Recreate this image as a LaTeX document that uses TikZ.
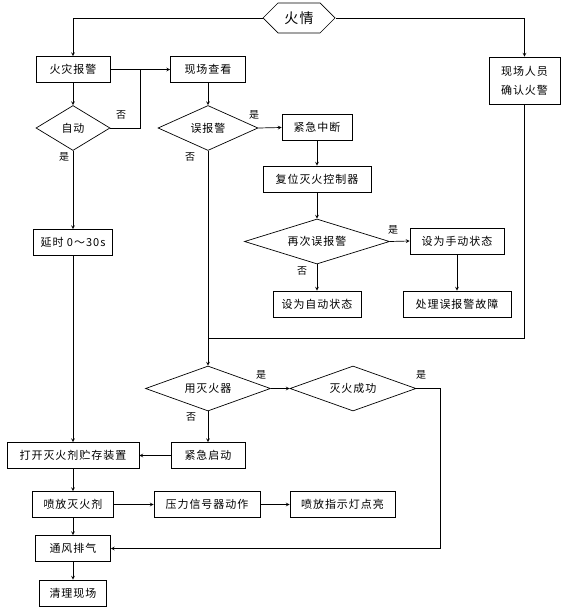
\documentclass[tikz,border=0pt]{standalone}
\usepackage{fontspec}
\setmainfont[LetterSpace=9]{Noto Sans CJK SC}
\usetikzlibrary{shapes.geometric,shapes.symbols}
\tikzset{%
    box/.style={draw, rectangle, inner sep=0pt, minimum height=26pt,
        font=\fontsize{11}{13}\selectfont},
    decision/.style={draw, diamond, aspect=3, inner sep=0pt, minimum height=45pt,
        font=\fontsize{11}{13}\selectfont},
    answer/.style={inner sep=0pt, font=\fontsize{10}{12}\selectfont}
}
\begin{document}
\begin{tikzpicture}[x=1pt,y=-1pt,line width=0.7pt,>=stealth]
    \useasboundingbox (0,0) rectangle (561,607);
%-----------------------------------------------
    \node[draw, signal, signal to=east and west, inner sep=0pt, minimum width=72pt,
        minimum height=30pt, font=\fontsize{14}{16}\selectfont] (fire) at (299,18) {火情};
    \node[box, minimum width=74pt] (alarm) at (73,69.5) {火灾报警};
    \node[box, minimum width=75pt] (check) at (208,69.5) {现场查看};
    \node[box, minimum width=71pt, minimum height=47pt, align=center,
        font=\fontsize{11}{19}\selectfont] (staff) at (524.5,80.5) {现场人员\\确认火警};
%-----------------------------------------------
    \node[decision, minimum width=74pt] (isauto) at (73,128) {自动};
    \node[decision, minimum width=100pt] (false) at (208,128) {误报警};
    \node[box, minimum width=70pt] (stop) at (317,127.5) {紧急中断};
    \node[box, minimum width=108pt] (reset) at (317,179) {复位灭火控制器};
    \node[decision, minimum width=145pt] (again) at (317,241.5) {再次误报警};
    \node[box, minimum width=94pt] (manual) at (457,241) {设为手动状态};
    \node[box, minimum width=88pt] (autoset) at (317,304) {设为自动状态};
    \node[box, minimum width=108pt] (fault) at (457,304) {处理误报警故障};
    \node[box, minimum width=79pt] (delay) at (73,242.5) {延时 0～30s};
%-----------------------------------------------
    \node[decision, minimum width=125pt] (useext) at (208,388.5) {用灭火器};
    \node[decision, minimum width=126pt] (success) at (353,388.5) {灭火成功};
    \node[box, minimum width=74pt] (start) at (208,455.5) {紧急启动};
    \node[box, minimum width=132pt] (open) at (73,455.5) {打开灭火剂贮存装置};
    \node[box, minimum width=81pt] (spray) at (73,504.5) {喷放灭火剂};
    \node[box, minimum width=106pt] (press) at (207,504.5) {压力信号器动作};
    \node[box, minimum width=105pt] (lamp) at (342.5,504.5) {喷放指示灯点亮};
    \node[box, minimum width=75pt] (vent) at (73,548.5) {通风排气};
    \node[box, minimum width=67pt] (clean) at (73,593) {清理现场};
%-----------------------------------------------
    \coordinate (j1) at (140,69.5);
    \coordinate (j2) at (208,338);
    \coordinate (j3) at (440,388.5);
%-----------------------------------------------
    \draw[->] (fire.west) -| (alarm.north);
    \draw[->] (fire.east) -| (staff.north);
    \draw[->] (alarm.east) -- (check.west);
    \draw[->] (alarm.south) -- (isauto.north);
    \draw (isauto.east) -| (j1);
    \draw[->] (isauto.south) -- (delay.north);
    \draw[->] (check.south) -- (false.north);
    \draw[->] (false.east) -- (stop.west);
    \draw[->] (stop.south) -- (reset.north);
    \draw[->] (reset.south) -- (again.north);
    \draw[->] (again.east) -- (manual.west);
    \draw[->] (again.south) -- (autoset.north);
    \draw[->] (manual.south) -- (fault.north);
%-----------------------------------------------
    \draw[->] (false.south) -- (useext.north);
    \draw (staff.south) |- (j2);
    \draw[->] (useext.east) -- (success.west);
    \draw[->] (success.east) -- (j3) |- (vent.east);
    \draw[->] (useext.south) -- (start.north);
    \draw[->] (start.west) -- (open.east);
    \draw[->] (delay.south) -- (open.north);
    \draw[->] (open.south) -- (spray.north);
    \draw[->] (spray.east) -- (press.west);
    \draw[->] (press.east) -- (lamp.west);
    \draw[->] (spray.south) -- (vent.north);
    \draw[->] (vent.south) -- (clean.north);
%-----------------------------------------------
    \node[answer] at (121,115) {否};
    \node[answer] at (64,157) {是};
    \node[answer] at (254,115) {是};
    \node[answer] at (190,157) {否};
    \node[answer] at (393,230) {是};
    \node[answer] at (302,271) {否};
    \node[answer] at (261,375) {是};
    \node[answer] at (421,375) {是};
    \node[answer] at (191,417) {否};
\end{tikzpicture}
\end{document}
